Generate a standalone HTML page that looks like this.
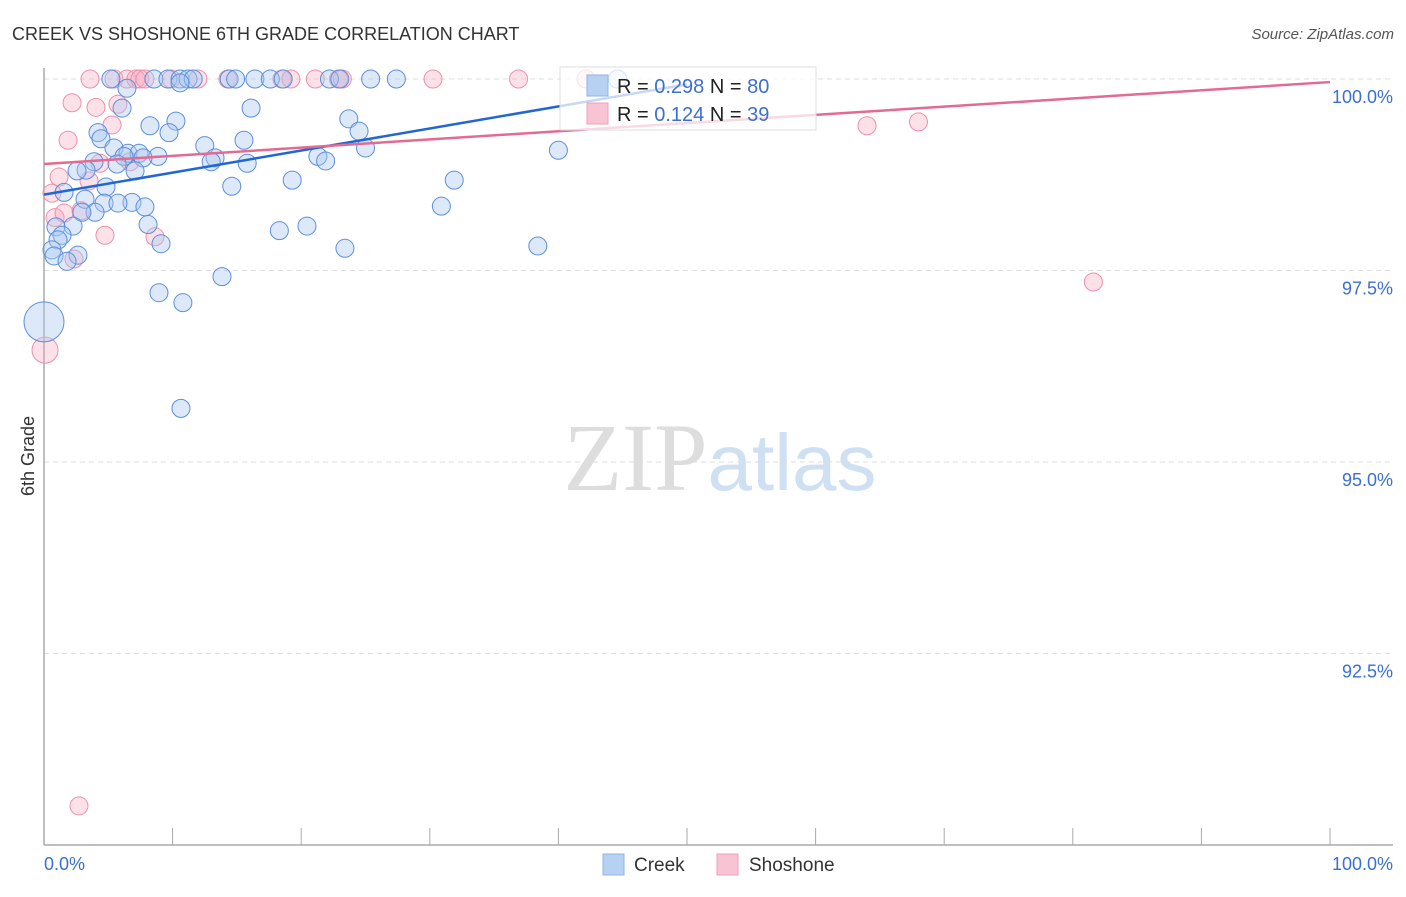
<!DOCTYPE html>
<html><head><meta charset="utf-8"><style>
body{margin:0;background:#fff;font-family:"Liberation Sans",sans-serif;}
</style></head><body>
<svg width="1406" height="892" xmlns="http://www.w3.org/2000/svg" font-family="Liberation Sans, sans-serif">
<text x="12" y="40" font-size="18" fill="#333">CREEK VS SHOSHONE 6TH GRADE CORRELATION CHART</text>
<text x="1394" y="39" font-size="15" fill="#555" text-anchor="end" font-style="italic">Source: ZipAtlas.com</text>
<text x="720" y="490" font-size="96" text-anchor="middle"><tspan fill="#ddd" font-family="Liberation Serif, serif">ZIP</tspan><tspan fill="#cfe0f3" font-size="80">atlas</tspan></text>
<g id="grid"></g>
<g id="axes"></g>
<g id="pts"></g>
<g id="lines"></g>
<text transform="translate(34,456) rotate(-90)" font-size="18" fill="#333" text-anchor="middle">6th Grade</text>
<g>
<rect x="560" y="67" width="256" height="63" fill="#fff" fill-opacity="0.75" stroke="#ddd"/>
<rect x="587" y="75" width="21" height="21" fill="#b7d1f3" stroke="#8fb4e6"/>
<rect x="587" y="103" width="21" height="21" fill="#f8c4d4" stroke="#f0a0b8"/>
<text x="617" y="93" font-size="20" fill="#222">R = <tspan fill="#3b6fd0">0.298</tspan>   N = <tspan fill="#3b6fd0">80</tspan></text>
<text x="617" y="121" font-size="20" fill="#222">R =  <tspan fill="#3b6fd0">0.124</tspan>   N =  <tspan fill="#3b6fd0">39</tspan></text>
</g>
<g>
<rect x="603" y="854" width="21" height="21" fill="#b7d1f3" stroke="#8fb4e6"/>
<text x="634" y="871" font-size="19" fill="#333">Creek</text>
<rect x="717" y="854" width="21" height="21" fill="#f8c4d4" stroke="#f0a0b8"/>
<text x="749" y="871" font-size="19" fill="#333">Shoshone</text>
</g>
</svg>
<script>
const creekX=[5.2,8.55,9.64,10.58,11.2,11.6,14.4,14.9,16.4,17.6,18.6,22.2,23.0,25.4,27.4,44.6,10.58,6.45,6.07,16.1,10.26,8.24,23.7,4.2,9.72,24.5,4.43,15.55,12.5,5.44,25.0,40.0,6.53,7.39,6.22,8.86,13.3,21.3,3.89,13.0,21.9,5.68,7.7,15.8,3.27,7.08,2.57,19.3,31.9,4.82,14.6,1.56,3.19,4.67,6.84,5.75,7.85,30.9,3.97,2.95,8.09,2.26,0.93,20.45,18.3,1.4,1.09,9.1,38.4,23.4,0.62,0.78,2.64,1.79,13.84,8.94,10.8,10.65,0];
const creekY=[100,100,100,100,100,100,100,100,100,100,100,100,100,100,100,100,99.95,99.88,99.62,99.62,99.45,99.39,99.48,99.3,99.3,99.32,99.22,99.2,99.13,99.1,99.1,99.07,99.03,99.03,98.99,98.99,98.97,98.99,98.92,98.92,98.93,98.89,98.97,98.9,98.81,98.8,98.8,98.68,98.68,98.59,98.6,98.52,98.43,98.38,98.39,98.38,98.33,98.34,98.26,98.26,98.1,98.08,98.07,98.08,98.02,97.96,97.9,97.85,97.82,97.79,97.77,97.69,97.7,97.62,97.42,97.21,97.08,95.7,96.83];
const creekR=[9,9,9,9,9,9,9,9,9,9,9,9,9,9,9,9,9,9,9,9,9,9,9,9,9,9,9,9,9,9,9,9,9,9,9,9,9,9,9,9,9,9,9,9,9,9,9,9,9,9,9,9,9,9,9,9,9,9,9,9,9,9,9,9,9,9,9,9,9,9,9,9,9,9,9,9,9,9,20];
const shoX=[3.58,5.44,6.45,7.15,7.46,7.85,9.88,11.97,14.3,18.5,19.2,21.1,22.9,23.2,30.25,36.9,42.15,2.18,4.04,5.75,5.29,1.87,64.0,68.0,4.35,6.69,1.17,3.5,0.62,2.88,0.86,1.56,4.74,8.63,2.33,81.6,0.08,2.72];
const shoY=[100,100,100,100,100,100,100,100,100,100,100,100,100,100,100,100,100,99.69,99.63,99.67,99.4,99.2,99.39,99.44,98.9,98.92,98.72,98.67,98.51,98.28,98.19,98.25,97.96,97.94,97.65,97.35,96.46,90.51];
const shoR=[9,9,9,9,9,9,9,9,9,9,9,9,9,9,9,9,9,9,9,9,9,9,9,9,9,9,9,9,9,9,9,9,9,9,9,9,13,9];
const creekLine=[[0,98.49],[50,99.93]];
const shoLine=[[0,98.89],[100,99.96]];
const yTicks=[100,97.5,95,92.5];
const yTickLabels=["100.0%","97.5%","95.0%","92.5%"];
const xTicks=[0,10,20,30,40,50,60,70,80,90,100];
const NS="http://www.w3.org/2000/svg";
const X=v=>44+v*12.86;
const Y=v=>79+(100-v)*76.6;
function mk(tag,attrs,parent){const e=document.createElementNS(NS,tag);for(const k in attrs)e.setAttribute(k,attrs[k]);document.getElementById(parent).appendChild(e);return e;}
yTicks.forEach((t,i)=>{
 const g=mk('line',{x1:44,x2:1393,y1:Y(t),y2:Y(t),stroke:'#ddd','stroke-dasharray':'5,4'},'grid');
 
 
 const l=mk('text',{x:1393,y:Y(t)+24,'font-size':18,fill:'#3b6fd0','text-anchor':'end'},'grid');
 l.textContent=yTickLabels[i];
 
 
});
const ya=mk('line',{x1:44,x2:44,y1:68,y2:845,stroke:'#aaa','stroke-width':1.5},'axes');


const xa=mk('line',{x1:44,x2:1393,y1:845,y2:845,stroke:'#aaa','stroke-width':1.5},'axes');


xTicks.forEach(t=>{
 const tk=mk('line',{x1:X(t),x2:X(t),y1:828,y2:845,stroke:'#aaa'},'axes');
 
 
});
const xl0=mk('text',{x:44,y:870,'font-size':18,fill:'#3b6fd0'},'axes');xl0.textContent="0.0%";


const xl1=mk('text',{x:1393,y:870,'font-size':18,fill:'#3b6fd0','text-anchor':'end'},'axes');xl1.textContent="100.0%";


shoX.forEach((x,i)=>{
 const c=mk('circle',{cx:X(x),cy:Y(shoY[i]),r:shoR[i],fill:'#f5a9c0','fill-opacity':0.35,stroke:'#ee8fab','stroke-width':1},'pts');
 
 
});
creekX.forEach((x,i)=>{
 const c=mk('circle',{cx:X(x),cy:Y(creekY[i]),r:creekR[i],fill:'#a9c8f0','fill-opacity':0.4,stroke:'#5b8fdc','stroke-width':1},'pts');
 
 
});
const bl=mk('line',{x1:X(creekLine[0][0]),y1:Y(creekLine[0][1]),x2:X(creekLine[1][0]),y2:Y(creekLine[1][1]),stroke:'#2266d6','stroke-width':2.5},'lines');


const pl=mk('line',{x1:X(shoLine[0][0]),y1:Y(shoLine[0][1]),x2:X(shoLine[1][0]),y2:Y(shoLine[1][1]),stroke:'#e46a92','stroke-width':2.5},'lines');


</script>
</body></html>
